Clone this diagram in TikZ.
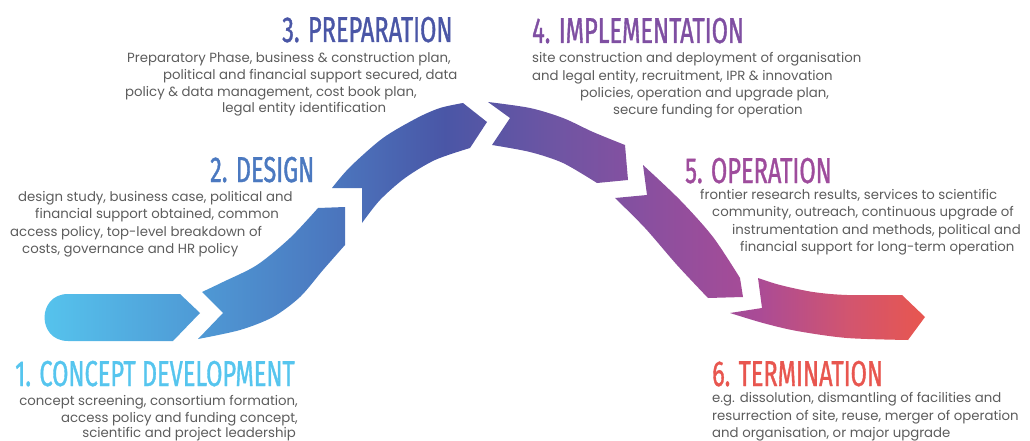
\documentclass[tikz,border=0pt]{standalone}
\usepackage{fontspec}
\usepackage{tikz}
\newfontfamily\headfont[FakeStretch=0.655,FakeBold=1]{Fira Sans}
\newfontfamily\bodyfont{Poppins}
\definecolor{conceptcol}{HTML}{56C5EE}
\definecolor{designcol}{HTML}{4B79C0}
\definecolor{prepcol}{HTML}{4A56A6}
\definecolor{implcol}{HTML}{7F4FA2}
\definecolor{opercol}{HTML}{9E4C9C}
\definecolor{termcol}{HTML}{E8564F}
\definecolor{textgray}{HTML}{5C5C5C}
\definecolor{ribbonA}{HTML}{4F9BD6}
\definecolor{ribbonB}{HTML}{6F55A3}
\definecolor{ribbonC}{HTML}{8650A0}
\definecolor{ribbonD}{HTML}{AA4B96}
\definecolor{ribbonE}{HTML}{D2556F}
\pgfdeclarehorizontalshading{ribbon}{100bp}{color(0bp)=(conceptcol); color(25bp)=(conceptcol);
  color(33.8bp)=(ribbonA); color(41.2bp)=(designcol); color(48bp)=(prepcol);
  color(54.3bp)=(ribbonB); color(58.8bp)=(ribbonC); color(65.6bp)=(ribbonD);
  color(70.7bp)=(ribbonE); color(75bp)=(termcol); color(100bp)=(termcol)}

\begin{document}
\begin{tikzpicture}[x=1pt,y=-1pt,
    head/.style={anchor=base west,inner sep=0pt,font=\headfont\fontsize{36}{36}\selectfont},
    body/.style={anchor=base west,inner sep=0pt,text=textgray,font=\bodyfont\fontsize{13.3}{16}\selectfont}]
  \useasboundingbox (0,0) rectangle (1030,441);

  \shade[shading=ribbon]
    (180,294) -- (200,313) -- (173,341) -- (68,341)
      .. controls (36.7,341) and (36.7,294) .. (68,294) -- cycle
    (202,292) -- (223,313) -- (198,339)
      -- plot[smooth] coordinates {(198,339) (240,330) (273,317) (300,297) (323,270) (345,245)}
      -- (345,207) -- (318,208)
      -- plot[smooth] coordinates {(318,208) (290,238) (257,265) (223,282) (202,292)} -- cycle
    (332,188) -- (362,188) -- (362,223)
      -- plot[smooth] coordinates {(362,223) (380,200) (405,178) (435,160) (470,148)}
      -- (487,122) -- (463,103)
      -- plot[smooth] coordinates {(463,103) (440,108) (417,118) (383,138) (350,167) (332,188)} -- cycle
    (488,102) -- (510,118) -- (492,145)
      -- plot[smooth] coordinates {(492,145) (530,152) (563,163) (597,183)}
      -- (628,180) -- (625,145)
      -- plot[smooth] coordinates {(625,145) (593,132) (563,118) (530,108) (488,102)} -- cycle
    (643,165) -- (647,195) -- (615,198)
      -- plot[smooth] coordinates {(615,198) (645,228) (677,265) (708,298)}
      -- (743,297) -- (740,278)
      -- plot[smooth] coordinates {(740,278) (713,237) (680,200) (643,165)} -- cycle
    (758,278) -- (762,308) -- (730,313)
      -- plot[smooth] coordinates {(730,313) (763,323) (797,331) (847,338) (908,340)}
      -- (925,317) -- (902,295)
      -- plot[smooth] coordinates {(902,295) (847,295) (813,292) (780,285) (758,278)} -- cycle;

  \node[head,text=conceptcol] (T1) at (15,386)  {1. CONCEPT DEVELOPMENT};
  \node[head,text=designcol]  (T2) at (210,182) {2. DESIGN};
  \node[head,text=prepcol]    (T3) at (282,42)  {3. PREPARATION};
  \node[head,text=implcol]    (T4) at (532,43)  {4. IMPLEMENTATION};
  \node[head,text=opercol]    (T5) at (685,183) {5. OPERATION};
  \node[head,text=termcol]    (T6) at (712,386) {6. TERMINATION};

  \node[body,anchor=base east] (C1) at (298,405) {concept screening, consortium formation,};
  \node[body,anchor=base east] (C2) at (298,422) {access policy and funding concept,};
  \node[body,anchor=base east] (C3) at (296,437) {scientific and project leadership};

  \node[body] (D1) at (18,201) {design study, business case, political and};
  \node[body] (D2) at (35,218) {financial support obtained, common};
  \node[body] (D3) at (10,236) {access policy, top-level breakdown of};
  \node[body] (D4) at (22,253) {costs, governance and HR policy};

  \node[body] (P1) at (127,63)  {Preparatory Phase, business \& construction plan,};
  \node[body] (P2) at (163,80)  {political and financial support secured, data};
  \node[body] (P3) at (125,97)  {policy \& data management, cost book plan,};
  \node[body] (P4) at (222,113) {legal entity identification};

  \node[body] (I1) at (532,63)  {site construction and deployment of organisation};
  \node[body] (I2) at (532,81)  {and legal entity, recruitment, IPR \& innovation};
  \node[body] (I3) at (580,98)  {policies, operation and upgrade plan,};
  \node[body] (I4) at (613,115) {secure funding for operation};

  \node[body] (O1) at (700,199) {frontier research results, services to scientific};
  \node[body] (O2) at (712,216) {community, outreach, continuous upgrade of};
  \node[body] (O3) at (732,234) {instrumentation and methods, political and};
  \node[body] (O4) at (740,251) {financial support for long-term operation};

  \node[body] (E1) at (712,402) {e.g. dissolution, dismantling of facilities and};
  \node[body] (E2) at (712,420) {resurrection of site, reuse, merger of operation};
  \node[body] (E3) at (712,437) {and organisation, or major upgrade};
\end{tikzpicture}
\end{document}
